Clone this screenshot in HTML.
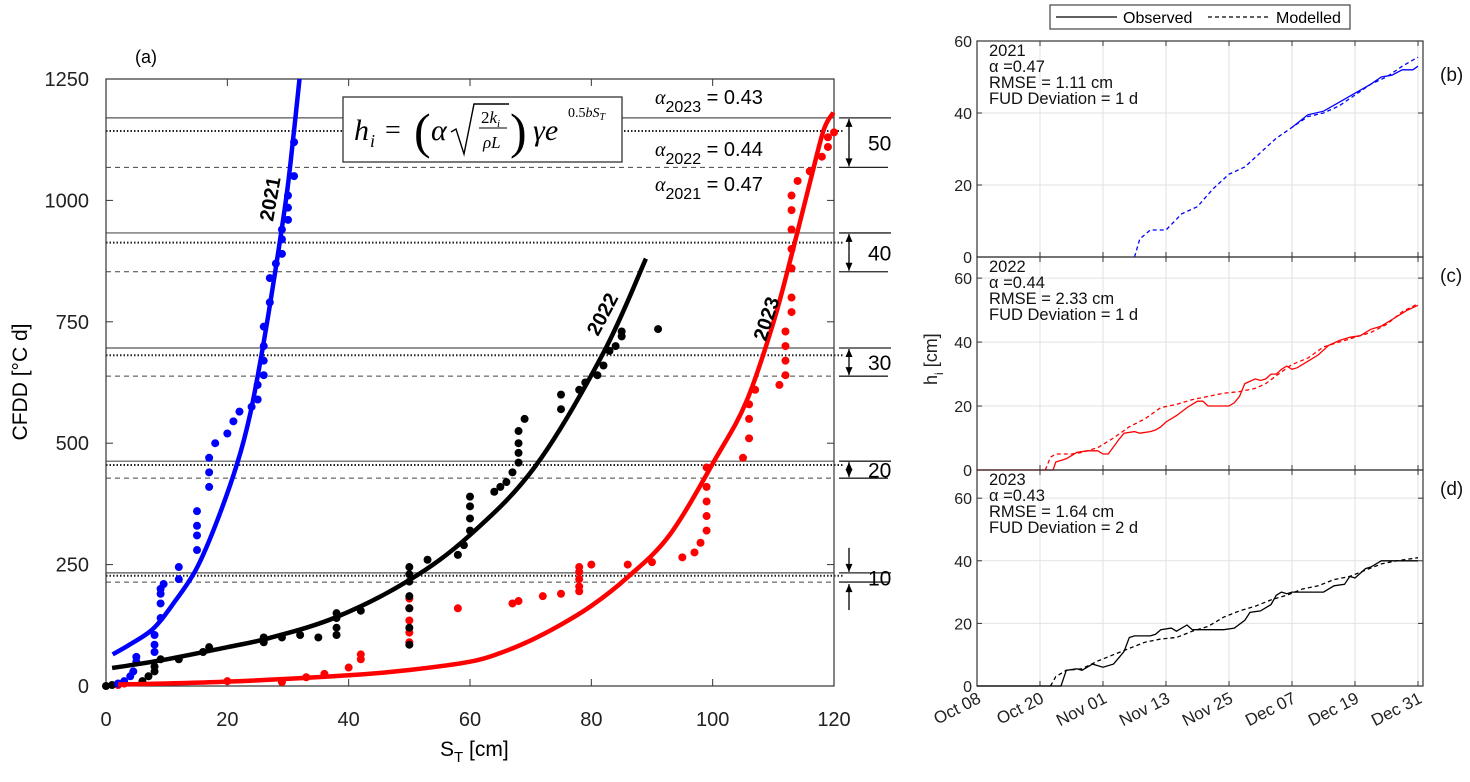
<!DOCTYPE html>
<html><head><meta charset="utf-8"><style>
body{margin:0;background:#fff;width:1470px;height:777px;overflow:hidden}
svg{font-family:"Liberation Sans",Arial,sans-serif}
</style></head><body>
<svg id="fig" width="1470" height="777" viewBox="0 0 1470 777"></svg>
<script>
// ---------- Panel (a) data ----------
const xTicksA=[0,20,40,60,80,100,120];
const yTicksA=[0,250,500,750,1000,1250];
const blueCurveS=[1.1,4,7.7,11,14.8,18,21.6,23.8,26,28.2,29.9,31,31.9];
const blueCurveC=[65,86,117,168,239,330,457,562,708,878,1023,1145,1250];
const blackCurveS=[1,10,20,27,38,50,60,70.8,81.9,89];
const blackCurveC=[37,55,80,99,142,218,311,453,684,880];
const redCurveS=[2,20,40,50,60,65,70,74.8,80,85.8,92.9,100.7,105.6,110,113.3,116.1,118.3,119.9];
const redCurveC=[3,9,22,33,50,68,94,125,165,222,311,473,587,748,902,1040,1145,1181];
const blueDotsS=[2,3,4,4.5,5,5,8,8,8,9,9,9,9,9.5,12,12,15,15,15,15,17,17,17,18,20,21,22,24,25,25,26,26,26,26,27,27,28,29,29,29,30,30,30,31,31];
const blueDotsC=[5,10,20,30,50,60,70,85,105,140,170,190,200,210,220,245,280,310,330,360,410,440,470,500,520,545,565,575,590,620,640,670,700,740,790,840,870,890,920,940,960,985,1010,1050,1120];
const blackDotsS=[0,1,2,6,7,8,8,9,12,16,17,26,26,29,32,35,38,38,38,38,42,50,50,50,50,50,50,50,53,58,59,60,60,60,60,64,65,66,67,68,68,68,68,69,75,75,78,79,81,82,83,84,85,85,91];
const blackDotsC=[0,2,5,10,20,30,40,55,55,70,80,90,100,100,105,100,105,120,140,150,155,85,120,160,185,215,230,245,260,270,290,320,345,370,390,400,410,420,440,460,480,500,525,550,570,600,610,625,640,660,690,700,720,730,735];
const redDotsS=[2,3,20,29,33,36,40,42,42,50,50,50,50,50,58,67,68,72,75,78,78,78,78,78,80,86,90,95,97,98,99,99,99,99,99,105,106,106,106,107,111,112,112,112,112,113,113,113,113,113,113,113,114,116,118,119,119,120];
const redDotsC=[2,5,10,8,18,25,38,55,65,90,110,135,160,180,160,170,175,185,190,195,205,220,235,245,250,250,255,265,275,295,320,350,380,410,450,470,510,550,580,610,620,640,670,700,730,770,800,860,900,940,980,1010,1040,1060,1090,1110,1130,1140];
const levelLabels=[10,20,30,40,50];
const levelSolid=[233,463,696,933,1170];
const levelDotted=[227,455,681,913,1143];
const levelDashed=[214,428,638,853,1068];

// ---------- Panels (b)-(d) data (days since Oct 08) ----------
const dateLabels=["Oct 08","Oct 20","Nov 01","Nov 13","Nov 25","Dec 07","Dec 19","Dec 31"];
const dateTicks=[0,12,24,36,48,60,72,84];
const hTicks=[0,20,40,60];
const bModD=[30,31,33,36,39,42,45,48,51,54,57,60,63,66,69,72,75,78,81,84];
const bModH=[0,5,7.5,7.5,12,14,19,23,25,29,33,36,39,40,42,45,48,50,53,55.5];
const bObsD=[60,63,66,69,72,75,77,79,81,83,84];
const bObsH=[36,39.5,40.5,43,45.5,48,50,50.5,52,52,53];
const cObsD=[0,14.5,15,17,19,21,23,24,25,27,28,30,31,33,34,35,36,38,40,42,43,44,46,48,49,50,51,53,54,55,56,57,58,59,60,61,63,65,67,69,71,73,75,77,78,80,82,84];
const cObsH=[0,0,2.5,3.5,5.5,6,6,5,5,9.5,11.5,12,11.5,12,12.5,13.5,15,17,19.5,21.5,21.5,20,20,20,21,23,27,28.5,28,28.5,30,30,31.5,32.5,31.5,32,34,36,39,40.5,41.5,42,44,45,46,48,50,51.5];
const cModD=[13,14,15,18,20,23,26,29,32,35,38,41,44,47,50,53,55,57,60,63,66,69,72,75,78,81,84];
const cModH=[0,4,5,5,5.5,7,10,13.5,16,19.5,20.5,22,23,24,24.5,25.5,27,29.5,33,35,38.5,40,41.5,43,45.5,49.5,52];
const dObsD=[0,16,17,19,20,22,24,26,27,28,29,30,33,34,35,37,38,40,41,43,47,49,51,52,54,56,57,58,59,60,63,66,68,70,71,72,74,75,77,80,84];
const dObsH=[0,0,5,5.5,5,7,6,7,9,11,15.5,16,16,16.5,18,18.5,17.5,19.5,18,18,18,18.5,21,23.5,24,26,29,30,29.5,30,30,30,32,32.5,35,34.5,37.5,38,40,40,40];
const dModD=[14,15,17,20,23,26,29,32,35,38,41,44,47,50,53,56,59,62,65,68,71,74,77,80,84];
const dModH=[0,3,5,5.5,8,10,12,14,15,15.5,17.5,19,22,24,25.5,27.5,29,31,32,34,35,37,39,40,41];

const NS="http://www.w3.org/2000/svg";
const svg=document.getElementById('fig');
function mk(tag,at,parent){const e=document.createElementNS(NS,tag);for(const k in at)e.setAttribute(k,at[k]);(parent||svg).appendChild(e);return e;}
function txt(s,at,parent){const e=mk('text',at,parent);e.textContent=s;return e;}
function arrow(x,y1,y2,g){
  mk('line',{x1:x,x2:x,y1:y1,y2:y2,stroke:'#000','stroke-width':1.3},g);
  const s=y2>y1?-1:1;
  mk('path',{d:'M'+(x-3.5)+','+(y2+s*8)+' L'+x+','+y2+' L'+(x+3.5)+','+(y2+s*8)+' Z',fill:'#000'},g);
}

const AX0=106,AX1=834,AY0=686,AY1=79;
const sx=s=>AX0+s*(AX1-AX0)/120;
const cy=c=>AY0-c*(AY0-AY1)/1250;

const gA=mk('g',{});


levelLabels.forEach((lab,i)=>{
  const ys=cy(levelSolid[i]),yd=cy(levelDotted[i]),yh=cy(levelDashed[i]);
  let l=mk('line',{x1:AX0,x2:AX1,y1:ys,y2:ys,stroke:'#555','stroke-width':1.2},gA);
  
  l=mk('line',{x1:AX0,x2:AX1+10,y1:yd,y2:yd,stroke:'#222','stroke-width':2,'stroke-dasharray':'1.5,2'},gA);
  
  l=mk('line',{x1:AX0,x2:AX1,y1:yh,y2:yh,stroke:'#444','stroke-width':1,'stroke-dasharray':'5,4'},gA);
  
  mk('line',{x1:AX1+5,x2:891,y1:ys,y2:ys,stroke:'#222','stroke-width':1.3},gA);
  mk('line',{x1:AX1+5,x2:888,y1:yh,y2:yh,stroke:'#222','stroke-width':1.3},gA);
  if(lab===10){
    arrow(849,ys-25,ys-1,gA);
    arrow(849,yh+28,yh+2,gA);
  } else {
    arrow(849,(ys+yh)/2,ys+1,gA);
    arrow(849,(ys+yh)/2,yh-1,gA);
  }
  const t=txt(String(lab),{x:868,y:(ys+yh)/2+8,'font-size':21},gA);
  
});
let box=mk('rect',{x:AX0,y:AY1,width:AX1-AX0,height:AY0-AY1,fill:'none',stroke:'#333','stroke-width':1.2},gA);

xTicksA.forEach(v=>{
  mk('line',{x1:sx(v),x2:sx(v),y1:AY0,y2:AY0-7,stroke:'#333'},gA);
  mk('line',{x1:sx(v),x2:sx(v),y1:AY1,y2:AY1+7,stroke:'#333'},gA);
  const t=txt(String(v),{x:sx(v),y:726,'font-size':20,'text-anchor':'middle',fill:'#222'},gA);
  
});
yTicksA.forEach(v=>{
  mk('line',{x1:AX0,x2:AX0+7,y1:cy(v),y2:cy(v),stroke:'#333'},gA);
  mk('line',{x1:AX1,x2:AX1-7,y1:cy(v),y2:cy(v),stroke:'#333'},gA);
  const t=txt(String(v),{x:89,y:cy(v)+7,'font-size':20,'text-anchor':'end',fill:'#222'},gA);
  
});
function dots(S,C,col,name){
  S.forEach((s,i)=>{const c=mk('circle',{cx:sx(s),cy:cy(C[i]),r:4,fill:col},gA);
    });
}
dots(redDotsS,redDotsC,'#f00','dot-2023');
dots(blackDotsS,blackDotsC,'#000','dot-2022');
dots(blueDotsS,blueDotsC,'#00f','dot-2021');
function curve(S,C,col,name){
  const P=S.map((s,i)=>[sx(s),cy(C[i])]);
  let d='M'+P[0][0].toFixed(1)+','+P[0][1].toFixed(1);
  for(let i=0;i<P.length-1;i++){
    const p0=P[Math.max(0,i-1)],p1=P[i],p2=P[i+1],p3=P[Math.min(P.length-1,i+2)];
    const c1=[p1[0]+(p2[0]-p0[0])/6,p1[1]+(p2[1]-p0[1])/6];
    const c2=[p2[0]-(p3[0]-p1[0])/6,p2[1]-(p3[1]-p1[1])/6];
    d+='C'+c1[0].toFixed(1)+','+c1[1].toFixed(1)+' '+c2[0].toFixed(1)+','+c2[1].toFixed(1)+' '+p2[0].toFixed(1)+','+p2[1].toFixed(1);
  }
  const p=mk('path',{d:d,fill:'none',stroke:col,'stroke-width':4.5,'stroke-linejoin':'round'},gA);
  
}
curve(blueCurveS,blueCurveC,'#00f','fit-curve-2021');
curve(blackCurveS,blackCurveC,'#000','fit-curve-2022');
curve(redCurveS,redCurveC,'#f00','fit-curve-2023');
</script>
<svg style="position:absolute;left:0;top:0" width="1470" height="777">
<text x="135" y="63" font-size="18">(a)</text>
<text transform="translate(27,382) rotate(-90)" font-size="21" text-anchor="middle">CFDD [°C d]</text>
<text x="440" y="756" font-size="21">S<tspan font-size="15" dy="6">T</tspan><tspan dy="-6"> [cm]</tspan></text>
<g>
<rect x="343" y="97" width="279" height="65" fill="#fff" stroke="#333" stroke-width="1.3"/>
<g font-family="Liberation Serif,serif" font-style="italic" fill="#000">
<text x="354" y="140" font-size="30">h</text>
<text x="370" y="147" font-size="18">i</text>
<text x="385" y="139" font-size="28" font-style="normal">=</text>
<text x="414" y="148" font-size="50" font-style="normal" font-weight="100">(</text>
<text x="431" y="140" font-size="30">α</text>
<path d="M451,132 L456,129 L464,154 L474,104 L509,104" fill="none" stroke="#000" stroke-width="1.4"/>
<text x="481" y="123" font-size="17" font-style="normal">2<tspan font-style="italic">k</tspan><tspan font-size="11" dy="4" font-style="italic">i</tspan></text>
<line x1="479" y1="128" x2="507" y2="128" stroke="#000" stroke-width="1"/>
<text x="483" y="148" font-size="17">ρL</text>
<text x="510" y="148" font-size="50" font-style="normal" font-weight="100">)</text>
<text x="533" y="140" font-size="30">γe</text>
<text x="568" y="117" font-size="14" font-style="normal">0.5<tspan font-style="italic">bS</tspan><tspan font-size="10" dy="3" font-style="italic">T</tspan></text>
</g>
</g>
<text x="655" y="104" font-size="20"><tspan font-family="Liberation Serif,serif" font-style="italic">α</tspan><tspan font-size="16" dy="8">2023</tspan><tspan dy="-8"> = 0.43</tspan></text>
<text x="655" y="156" font-size="20"><tspan font-family="Liberation Serif,serif" font-style="italic">α</tspan><tspan font-size="16" dy="8">2022</tspan><tspan dy="-8"> = 0.44</tspan></text>
<text x="655" y="191" font-size="20"><tspan font-family="Liberation Serif,serif" font-style="italic">α</tspan><tspan font-size="16" dy="8">2021</tspan><tspan dy="-8"> = 0.47</tspan></text>
<text transform="translate(273,222) rotate(-80)" font-size="20" font-weight="bold">2021</text>
<text transform="translate(598,337) rotate(-62)" font-size="20" font-weight="bold">2022</text>
<text transform="translate(766,342) rotate(-72)" font-size="20" font-weight="bold">2023</text>
</svg>
<script>
(function(){
const RX0=977,RX1=1418,RXR=1423;
const dx=d=>RX0+d*(RX1-RX0)/84;
const panels=[
 {name:'2021',top:41,bot:257,ymax:60,col:'#00f',obsD:bObsD,obsH:bObsH,modD:bModD,modH:bModH,alpha:'0.47',rmse:'1.11',fud:'=  1 d',lab:'(b)'},
 {name:'2022',top:257,bot:470,ymax:66.6,col:'#f00',obsD:cObsD,obsH:cObsH,modD:cModD,modH:cModH,alpha:'0.44',rmse:'2.33',fud:'= 1 d',lab:'(c)'},
 {name:'2023',top:470,bot:686,ymax:69,col:'#000',obsD:dObsD,obsH:dObsH,modD:dModD,modH:dModH,alpha:'0.43',rmse:'1.64',fud:'= 2 d',lab:'(d)'}
];
panels.forEach((p,pi)=>{
  const g=mk('g',{});
  
  
  const hy=h=>p.bot-h*(p.bot-p.top)/p.ymax;
  dateTicks.forEach(d=>{mk('line',{x1:dx(d),x2:dx(d),y1:p.top,y2:p.bot,stroke:'#e2e2e2'},g);
    mk('line',{x1:dx(d),x2:dx(d),y1:p.bot,y2:p.bot-5,stroke:'#333'},g);
    mk('line',{x1:dx(d),x2:dx(d),y1:p.top,y2:p.top+5,stroke:'#333'},g);});
  hTicks.forEach(h=>{mk('line',{x1:RX0,x2:RXR,y1:hy(h),y2:hy(h),stroke:'#e2e2e2'},g);
    mk('line',{x1:RX0,x2:RX0+5,y1:hy(h),y2:hy(h),stroke:'#333'},g);
    mk('line',{x1:RXR,x2:RXR-5,y1:hy(h),y2:hy(h),stroke:'#333'},g);
    const t=txt(String(h),{x:972,y:hy(h)+6,'font-size':16,'text-anchor':'end',fill:'#222'},g);
    });
  const fr=mk('rect',{x:RX0,y:p.top,width:RXR-RX0,height:p.bot-p.top,fill:'none',stroke:'#333','stroke-width':1.2},g);
  
  function line(D,H,dash,name){let d='';D.forEach((v,i)=>{d+=(i?'L':'M')+dx(v).toFixed(1)+','+hy(H[i]).toFixed(1);});
    const e=mk('path',{d:d,fill:'none',stroke:p.col,'stroke-width':1.3,'stroke-dasharray':dash},g);
    }
  line(p.modD,p.modH,'4,3','modelled-line-'+p.name);
  line(p.obsD,p.obsH,'none','observed-line-'+p.name);
  const tx=RX0+12;
  [p.name,'α =' + p.alpha,'RMSE = '+p.rmse+' cm','FUD Deviation '+p.fud].forEach((s,i)=>{
    const t=txt(s,{x:tx,y:p.top+15+i*16,'font-size':16.5,fill:'#111'},g);
    });
  const l=txt(p.lab,{x:1440,y:p.top+(pi===0?40:25),'font-size':19,fill:'#111'},g);
  
});
dateLabels.forEach((s,i)=>{
  const t=txt(s,{transform:'translate('+(dx(dateTicks[i])+5)+',702) rotate(-27)','font-size':17,'text-anchor':'end',fill:'#222'});
  
});
const yl=txt('h',{transform:'translate(937,385) rotate(-90)','font-size':18,fill:'#222'});

const ts=mk('tspan',{'font-size':12,dy:6},yl);ts.textContent='i';
const ts2=mk('tspan',{dy:-6},yl);ts2.textContent=' [cm]';
const lg=mk('g',{});


mk('rect',{x:1050,y:5,width:300,height:24,fill:'#fff',stroke:'#444','stroke-width':1.2},lg);
mk('line',{x1:1056,x2:1117,y1:17,y2:17,stroke:'#000','stroke-width':1.2},lg);
const o=txt('Observed',{x:1123,y:23,'font-size':16},lg);

mk('line',{x1:1208,x2:1268,y1:17,y2:17,stroke:'#000','stroke-width':1.2,'stroke-dasharray':'4,3'},lg);
const m=txt('Modelled',{x:1276,y:23,'font-size':16},lg);

})();
</script>
</body></html>
